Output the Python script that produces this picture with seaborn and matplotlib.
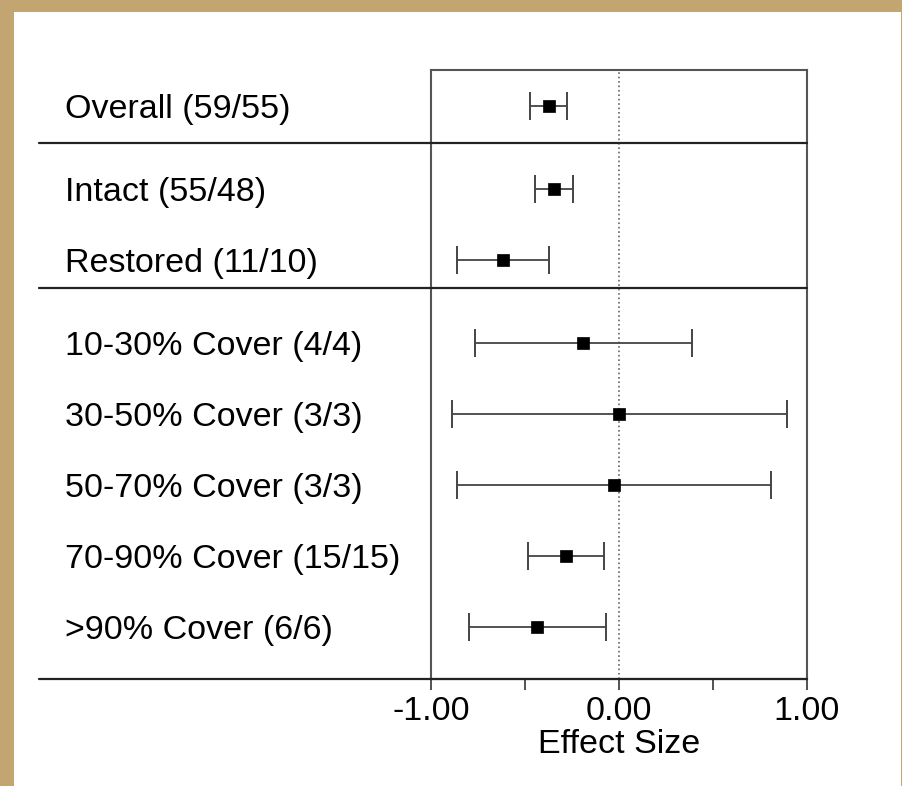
import numpy as np
import pandas as pd
import seaborn as sns
import matplotlib.pyplot as plt
from matplotlib.patches import Rectangle

sns.set_style("white")
plt.rcParams['font.family'] = ['Liberation Sans', 'DejaVu Sans']
plt.rcParams['text.color'] = 'black'
plt.rcParams['axes.labelcolor'] = 'black'
plt.rcParams['xtick.color'] = 'black'
plt.rcParams['ytick.color'] = 'black'

# data
labels = ["Overall (59/55)", "Intact (55/48)", "Restored (11/10)",
          "10-30% Cover (4/4)", "30-50% Cover (3/3)", "50-70% Cover (3/3)",
          "70-90% Cover (15/15)", ">90% Cover (6/6)"]
groups = [0, 1, 1, 2, 2, 2, 2, 2]
effect = [-0.372, -0.346, -0.615, -0.190, 0.002, -0.025, -0.284, -0.434]
ci_low = [-0.471, -0.445, -0.860, -0.768, -0.886, -0.860, -0.486, -0.798]
ci_high = [-0.275, -0.245, -0.374, 0.390, 0.892, 0.810, -0.081, -0.071]

# row positions: one unit per row, plus a small gap between groups
gap = 0.17
pos = np.arange(len(labels)) + gap * np.array(groups)
df = pd.DataFrame({"label": labels, "pos": pos, "effect": effect,
                   "lo": ci_low, "hi": ci_high})

fig = plt.figure(figsize=(9.03, 7.86), dpi=100)
fig.patch.set_facecolor("#C3A571")
bg = Rectangle((14 / 903, 0), 887 / 903, 774 / 786,
               transform=fig.transFigure, facecolor="white",
               edgecolor="none", zorder=-10)
fig.add_artist(bg)

ax = fig.add_axes([431 / 903, 107 / 786, 376 / 903, 609 / 786])
ax.set_facecolor("white")

ax.axvline(0, ls=":", color="#666666", lw=1.2, zorder=1)

ax.errorbar(df["effect"], df["pos"],
            xerr=[df["effect"] - df["lo"], df["hi"] - df["effect"]],
            fmt="none", ecolor="#444444", elinewidth=1.3,
            capsize=10, capthick=1.4, zorder=2)
sns.scatterplot(data=df, x="effect", y="pos", marker="s", s=80,
                color="black", edgecolor="black", linewidth=0.5,
                ax=ax, zorder=3, legend=False)

ax.set_xlim(-1, 1)
ax.set_ylim(8.07, -0.51)

# group separators extending into the label area
yt = ax.get_yaxis_transform()
for ysep in [0.52, 2.56, 8.07]:
    ax.plot([-1.043, 1.0], [ysep, ysep], color="#222222", lw=1.6,
            transform=yt, clip_on=False, zorder=4)

for sp in ax.spines.values():
    sp.set_color("#555555")
    sp.set_linewidth(1.5)

ax.set_xticks([-1, 0, 1])
ax.set_xticklabels(["-1.00", "0.00", "1.00"])
ax.set_xticks([-0.5, 0.5], minor=True)
ax.tick_params(axis="x", which="both", direction="out", length=8, width=1.3,
               color="#444444", labelcolor="black", labelsize=24.5, pad=4,
               bottom=True)

ax.set_yticks(df["pos"])
ax.set_yticklabels(df["label"])
ax.tick_params(axis="y", length=0, labelsize=24.5, labelcolor="black",
               pad=263.5)
for t in ax.get_yticklabels():
    t.set_horizontalalignment("left")

ax.set_xlabel("Effect Size", fontsize=24.5, labelpad=2, color="black")
ax.set_ylabel("")

fig.savefig("out.png", dpi=100, facecolor=fig.get_facecolor())
